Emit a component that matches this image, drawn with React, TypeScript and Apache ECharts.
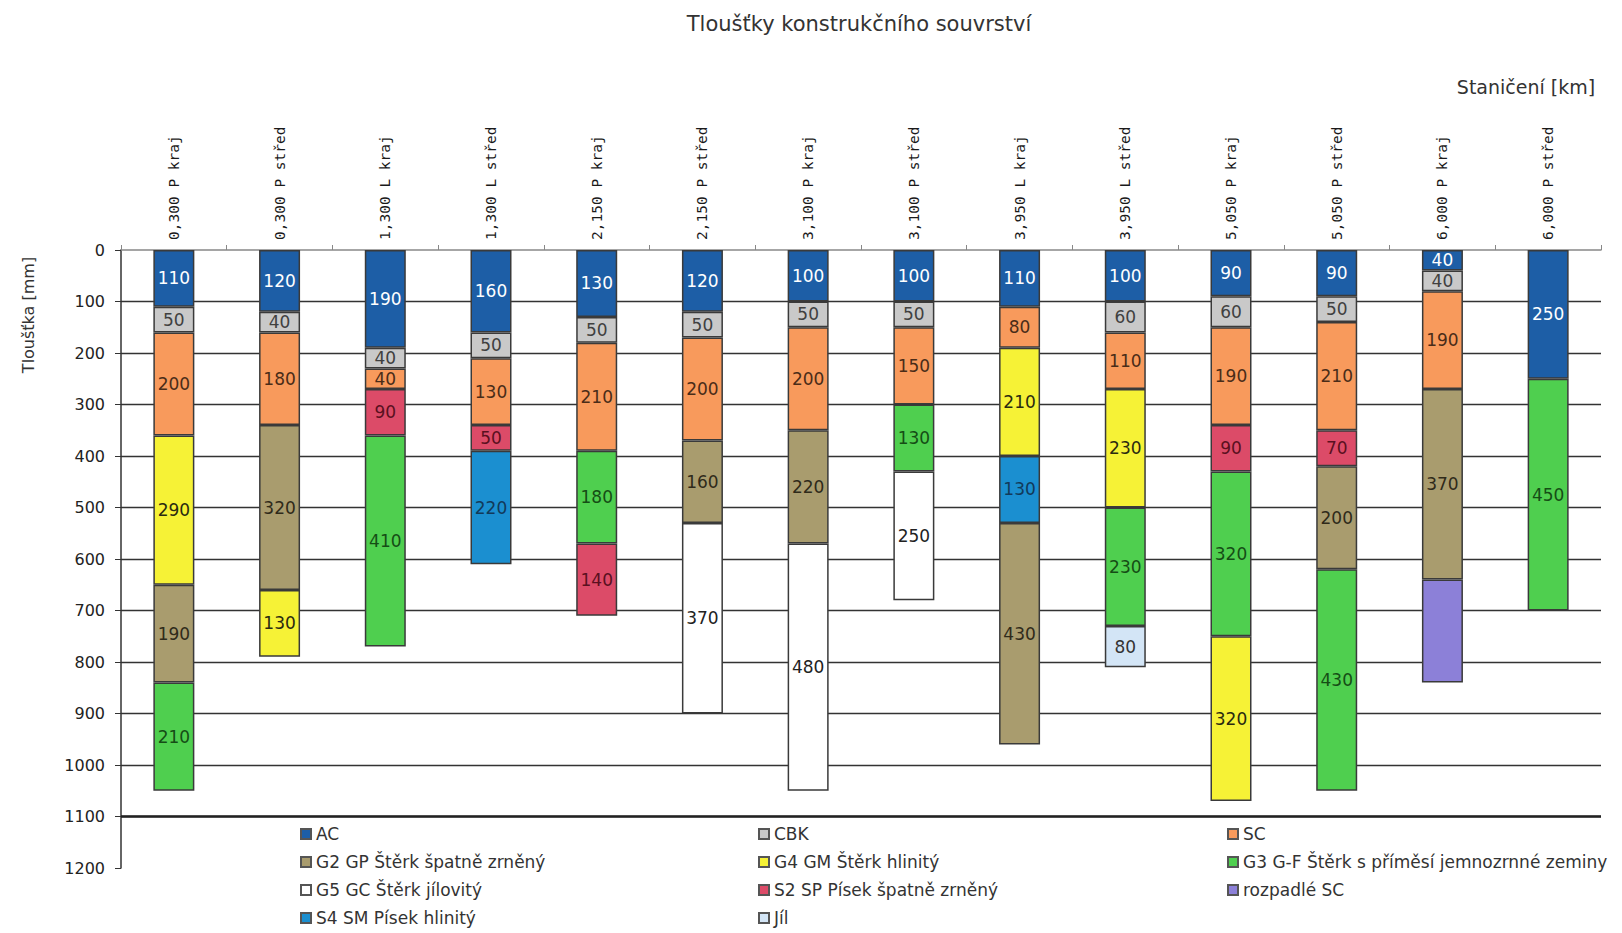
import React, { useEffect, useRef } from "react";
import * as echarts from "echarts";

const stations = [
  "0,300 P kraj",
  "0,300 P střed",
  "1,300 L kraj",
  "1,300 L střed",
  "2,150 P kraj",
  "2,150 P střed",
  "3,100 P kraj",
  "3,100 P střed",
  "3,950 L kraj",
  "3,950 L střed",
  "5,050 P kraj",
  "5,050 P střed",
  "6,000 P kraj",
  "6,000 P střed",
];

// layer types from top to bottom for each station
const stationLayers: string[][] = [
  ["AC", "CBK", "SC", "G4", "G2", "G3"],
  ["AC", "CBK", "SC", "G2", "G4"],
  ["AC", "CBK", "SC", "S2", "G3"],
  ["AC", "CBK", "SC", "S2", "S4"],
  ["AC", "CBK", "SC", "G3", "S2"],
  ["AC", "CBK", "SC", "G2", "G5"],
  ["AC", "CBK", "SC", "G2", "G5"],
  ["AC", "CBK", "SC", "G3", "G5"],
  ["AC", "SC", "G4", "S4", "G2"],
  ["AC", "CBK", "SC", "G4", "G3", "JIL"],
  ["AC", "CBK", "SC", "S2", "G3", "G4"],
  ["AC", "CBK", "SC", "S2", "G2", "G3"],
  ["AC", "CBK", "SC", "G2", "RSC"],
  ["AC", "G3"],
];

// thickness [mm] of each layer, matching stationLayers
const stationThickness: number[][] = [
  [110, 50, 200, 290, 190, 210],
  [120, 40, 180, 320, 130],
  [190, 40, 40, 90, 410],
  [160, 50, 130, 50, 220],
  [130, 50, 210, 180, 140],
  [120, 50, 200, 160, 370],
  [100, 50, 200, 220, 480],
  [100, 50, 150, 130, 250],
  [110, 80, 210, 130, 430],
  [100, 60, 110, 230, 230, 80],
  [90, 60, 190, 90, 320, 320],
  [90, 50, 210, 70, 200, 430],
  [40, 40, 190, 370, 200],
  [250, 450],
];

const legendKeys = ["AC", "CBK", "SC", "G2", "G4", "G3", "G5", "S2", "RSC", "S4", "JIL"];
const legendLabels = [
  "AC",
  "CBK",
  "SC",
  "G2 GP Štěrk špatně zrněný",
  "G4 GM Štěrk hlinitý",
  "G3 G-F Štěrk s příměsí jemnozrnné zeminy",
  "G5 GC Štěrk jílovitý",
  "S2 SP Písek špatně zrněný",
  "rozpadlé SC",
  "S4 SM Písek hlinitý",
  "Jíl",
];

const depthTicks = [0, 100, 200, 300, 400, 500, 600, 700, 800, 900, 1000, 1100, 1200];

const typeColor: Record<string, string> = {
  AC: "#1d5ea6",
  CBK: "#c9c9c9",
  SC: "#f89a5c",
  G2: "#a99c6e",
  G4: "#f6f236",
  G3: "#4fcf4f",
  G5: "#ffffff",
  S2: "#dc4b68",
  RSC: "#8c80d8",
  S4: "#1b8fd0",
  JIL: "#d3e5f6",
};

const labelColor: Record<string, string> = {
  AC: "#ffffff",
  CBK: "#404040",
  SC: "#4a2c18",
  G2: "#2f2a1a",
  G4: "#2a2a10",
  G3: "#154d15",
  G5: "#222222",
  S2: "#5a1020",
  RSC: "#222222",
  S4: "#123a5a",
  JIL: "#333333",
};

const FONT = "DejaVu Sans";

export default function App() {
  const ref = useRef<HTMLDivElement>(null);

  useEffect(() => {
    document.body.style.margin = "0";
    if (!ref.current) return;
    const chart = echarts.init(ref.current, null, { renderer: "svg" });

    const maxLayers = Math.max(...stationLayers.map((l) => l.length));
    const layerSeries: any[] = [];
    for (let i = 0; i < maxLayers; i++) {
      layerSeries.push({
        type: "bar",
        name: "layer" + i,
        stack: "profile",
        barWidth: 41,
        legendHoverLink: false,
        itemStyle: { borderColor: "#3a3a3a", borderWidth: 1.5 },
        label: {
          show: true,
          position: "inside",
          fontFamily: FONT,
          fontSize: 17,
          formatter: (p: any) => String(p.value),
        },
        data: stations.map((_, s) => {
          const t = stationLayers[s][i];
          if (!t) return "-";
          return {
            value: stationThickness[s][i],
            itemStyle: { color: typeColor[t] },
            label: { color: labelColor[t], show: t !== "RSC" },
          };
        }),
        markLine:
          i === 0
            ? {
                silent: true,
                symbol: "none",
                label: { show: false },
                lineStyle: { color: "#222", width: 2.5, type: "solid" },
                data: [{ yAxis: 1100 }],
              }
            : undefined,
      });
    }

    const legendSeries = legendKeys.map((k, idx) => ({
      type: "bar",
      name: legendLabels[idx],
      stack: "profile",
      barWidth: 41,
      data: [],
      itemStyle: { color: typeColor[k], borderColor: "#555", borderWidth: 1 },
    }));

    const legendBase = {
      orient: "vertical",
      top: 824,
      height: 106,
      padding: 0,
      itemWidth: 10,
      itemHeight: 10,
      itemGap: 8,
      icon: "rect",
      selectedMode: false,
      textStyle: { fontFamily: FONT, fontSize: 17, color: "#333", lineHeight: 20 },
    };

    chart.setOption({
      animation: false,
      backgroundColor: "#ffffff",
      title: {
        text: "Tloušťky konstrukčního souvrství",
        left: 854,
        textAlign: "center",
        top: 8,
        textStyle: { fontFamily: FONT, fontSize: 21, fontWeight: "normal", color: "#333" },
      },
      legend: [
        { ...legendBase, left: 300, data: [legendLabels[0], legendLabels[3], legendLabels[6], legendLabels[9]] },
        { ...legendBase, left: 758, data: [legendLabels[1], legendLabels[4], legendLabels[7], legendLabels[10]] },
        { ...legendBase, left: 1227, data: [legendLabels[2], legendLabels[5], legendLabels[8]] },
      ],
      grid: { left: 121, right: 21, top: 250, bottom: 65 },
      xAxis: {
        type: "category",
        position: "top",
        data: stations,
        axisLine: { show: true, lineStyle: { color: "#888", width: 1.5 } },
        axisTick: { show: true, length: 5, lineStyle: { color: "#888" } },
        axisLabel: {
          rotate: 90,
          margin: 10,
          fontFamily: "DejaVu Sans Mono",
          fontSize: 14.5,
          color: "#1a1a1a",
        },
        splitLine: { show: false },
      },
      yAxis: {
        type: "value",
        inverse: true,
        min: 0,
        max: 1200,
        interval: 100,
        axisLine: { show: true, lineStyle: { color: "#333", width: 1.5 } },
        axisTick: { show: true, length: 6, lineStyle: { color: "#333" } },
        axisLabel: {
          margin: 16,
          fontFamily: FONT,
          fontSize: 16,
          color: "#222",
          customValues: depthTicks,
          formatter: (v: number) => String(v),
        },
        splitLine: {
          show: true,
          showMinLine: false,
          showMaxLine: false,
          lineStyle: { color: "#333", width: 1.3 },
        },
      },
      graphic: [
        {
          type: "text",
          x: 28,
          y: 315,
          rotation: Math.PI / 2,
          style: {
            text: "Tloušťka [mm]",
            fontFamily: FONT,
            fontSize: 16,
            fill: "#333",
            align: "center",
            verticalAlign: "middle",
          },
        },
        {
          type: "text",
          x: 1526,
          y: 87,
          style: {
            text: "Staničení [km]",
            fontFamily: FONT,
            fontSize: 19,
            fill: "#333",
            align: "center",
            verticalAlign: "middle",
          },
        },
      ],
      series: [...layerSeries, ...legendSeries],
    });

    return () => chart.dispose();
  }, []);

  return <div ref={ref} style={{ width: 1622, height: 933 }} />;
}
